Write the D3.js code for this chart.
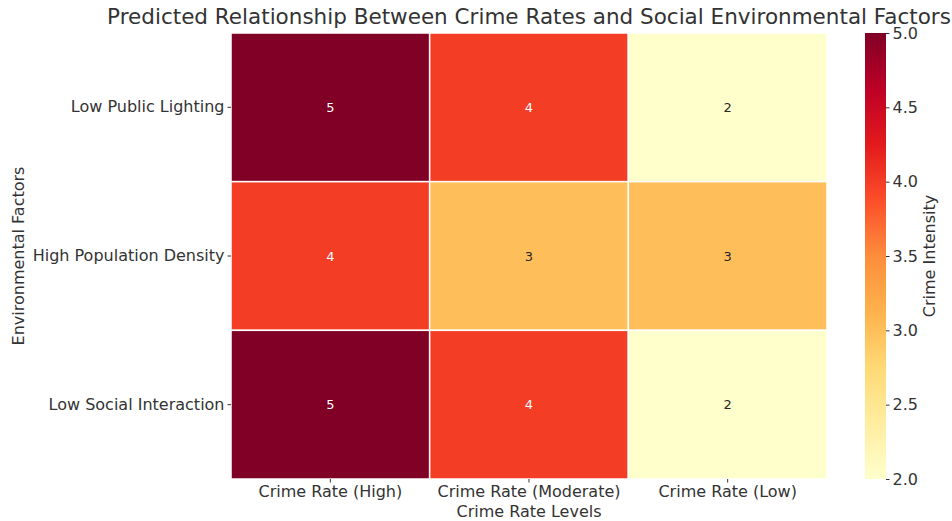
<!DOCTYPE html>
<html>
<head>
<meta charset="utf-8">
<script src="https://cdn.jsdelivr.net/npm/d3@7"></script>
<style>
  body { margin: 0; background: #fff; }
  text { font-family: "DejaVu Sans", sans-serif; fill: #333; }
</style>
</head>
<body>
<div id="chart"></div>
<script>
const rowLabels = ['Low Public Lighting', 'High Population Density', 'Low Social Interaction']
const colLabels = ['Crime Rate (High)', 'Crime Rate (Moderate)', 'Crime Rate (Low)']
const values = [
    [5, 4, 2],
    [4, 3, 3],
    [5, 4, 2]
]
const colorTicks = [2.0, 2.5, 3.0, 3.5, 4.0, 4.5, 5.0]

// matplotlib YlOrRd stops
const ylOrRd = ['#ffffcc', '#ffeda0', '#fed976', '#feb24c', '#fd8d3c', '#fc4e2a', '#e31a1c', '#bd0026', '#800026']

const width = 952, height = 521
const plotLeft = 231, plotRight = 827, plotTop = 33, plotBottom = 479

const svg = d3.select('#chart')
    .append('svg')
    .attr('width', width)
    .attr('height', height)

const x = d3.scaleBand().domain(colLabels).range([plotLeft, plotRight])
const y = d3.scaleBand().domain(rowLabels).range([plotTop, plotBottom])
const color = d3.scaleLinear()
    .domain(d3.range(ylOrRd.length).map(i => 2 + 3 * i / (ylOrRd.length - 1)))
    .range(ylOrRd)

let cells = []
values.forEach((row, i) => row.forEach((v, j) => cells.push({ row: rowLabels[i], col: colLabels[j], value: v })))

svg.selectAll('.cell')
    .data(cells)
    .enter().append('rect')
    .attr('class', 'cell')
    .attr('x', d => x(d.col))
    .attr('y', d => y(d.row))
    .attr('width', x.bandwidth())
    .attr('height', y.bandwidth())
    .attr('fill', d => color(d.value))
    .attr('stroke', '#fff')
    .attr('stroke-width', 1.5)

svg.selectAll('.annot')
    .data(cells)
    .enter().append('text')
    .attr('class', 'annot')
    .attr('x', d => x(d.col) + x.bandwidth() / 2)
    .attr('y', d => y(d.row) + y.bandwidth() / 2)
    .attr('text-anchor', 'middle')
    .attr('dominant-baseline', 'central')
    .attr('font-size', 13)
    .style('fill', d => d.value >= 4 ? '#ffffff' : '#262626')
    .text(d => d.value)

// axes
const xAxis = svg.append('g')
    .attr('transform', `translate(0,${plotBottom})`)
    .call(d3.axisBottom(x).tickSize(3.5).tickPadding(3))
xAxis.select('.domain').remove()
xAxis.selectAll('text').attr('font-size', 16).style('fill', '#333')
xAxis.selectAll('line').attr('stroke', '#333')

const yAxis = svg.append('g')
    .attr('transform', `translate(${plotLeft},0)`)
    .call(d3.axisLeft(y).tickSize(3.5).tickPadding(3))
yAxis.select('.domain').remove()
yAxis.selectAll('text').attr('font-size', 16).style('fill', '#333')
yAxis.selectAll('line').attr('stroke', '#333')

svg.append('text')
    .attr('x', (plotLeft + plotRight) / 2)
    .attr('y', 517)
    .attr('text-anchor', 'middle')
    .attr('font-size', 16)
    .text('Crime Rate Levels')

svg.append('text')
    .attr('transform', `translate(24,${(plotTop + plotBottom) / 2}) rotate(-90)`)
    .attr('text-anchor', 'middle')
    .attr('font-size', 16)
    .text('Environmental Factors')

svg.append('text')
    .attr('x', (plotLeft + plotRight) / 2)
    .attr('y', 24)
    .attr('text-anchor', 'middle')
    .attr('font-size', 21.5)
    .text('Predicted Relationship Between Crime Rates and Social Environmental Factors')

// colorbar
const cbX = 865, cbW = 21
const cy = d3.scaleLinear().domain([2, 5]).range([plotBottom, plotTop])
const defs = svg.append('defs')
const grad = defs.append('linearGradient')
    .attr('id', 'cbgrad')
    .attr('x1', 0).attr('y1', 1).attr('x2', 0).attr('y2', 0)
grad.selectAll('stop')
    .data(ylOrRd)
    .enter().append('stop')
    .attr('offset', (d, i) => i / (ylOrRd.length - 1))
    .attr('stop-color', d => d)

svg.append('rect')
    .attr('x', cbX)
    .attr('y', plotTop)
    .attr('width', cbW)
    .attr('height', plotBottom - plotTop)
    .attr('fill', 'url(#cbgrad)')

const cAxis = svg.append('g')
    .attr('transform', `translate(${cbX + cbW},0)`)
    .call(d3.axisRight(cy).tickValues(colorTicks).tickFormat(d3.format('.1f')).tickSize(3.5).tickPadding(3))
cAxis.select('.domain').remove()
cAxis.selectAll('text').attr('font-size', 16).style('fill', '#333')
cAxis.selectAll('line').attr('stroke', '#333')

svg.append('text')
    .attr('transform', `translate(935,${(plotTop + plotBottom) / 2}) rotate(-90)`)
    .attr('text-anchor', 'middle')
    .attr('font-size', 16)
    .text('Crime Intensity')
</script>
</body>
</html>
